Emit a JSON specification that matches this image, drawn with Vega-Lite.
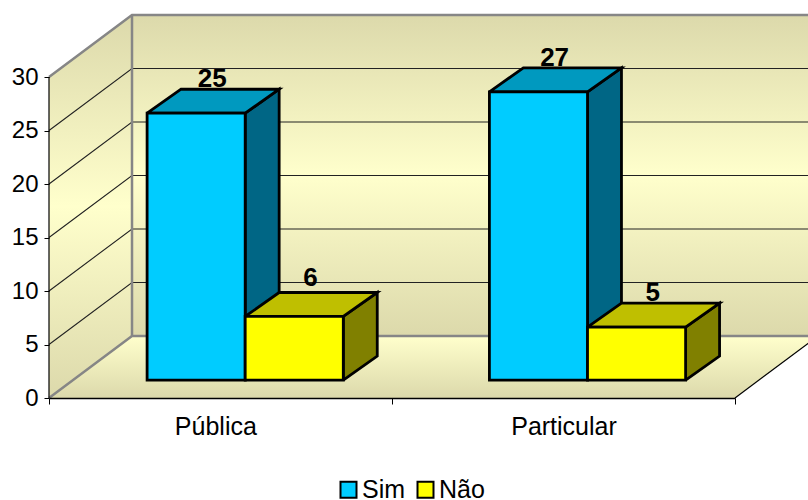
{
"$schema":"https://vega.github.io/schema/vega-lite/v6.json",
"width":686,"height":398,
"autosize":"none",
"padding":{"left":49,"top":0,"right":73,"bottom":102},
"background":"white",
"view":{"stroke":null},
"config":{"font":"Liberation Sans","axis":{"grid":false,"title":null}},
"data":{"values":[
{"categoria":"Pública","serie":"Sim","valor":25},
{"categoria":"Pública","serie":"Não","valor":6},
{"categoria":"Particular","serie":"Sim","valor":27},
{"categoria":"Particular","serie":"Não","valor":5}
]},
"transform":[
{"calculate":"(datum.categoria=='Pública'?0:1)+(datum.categoria=='Pública'?0.286:0.284)+(datum.serie=='Sim'?0:0.286)","as":"x0"},
{"calculate":"datum.x0+0.286","as":"x1"},
{"calculate":"1.68+datum.valor-0.06","as":"t"},
{"calculate":"1.68","as":"b"}
],
"encoding":{
"x":{"field":"px","type":"quantitative","title":null,"scale":{"domain":[0,2],"nice":false,"zero":false},
 "axis":{"values":[0,0.485,1,1.5,2],"labelExpr":"datum.value==0.485?'Pública':(datum.value==1.5?'Particular':'')","labelFontSize":25,"labelColor":"#000","labelPadding":10,"labelFlush":false,"labelBound":false,"tickSize":6,"tickColor":"#000","tickOpacity":{"condition":{"test":"datum.value==0.485||datum.value==1.5","value":0},"value":1},"domainColor":"#000","domainWidth":1.5,"zindex":1}},
"y":{"field":"py","type":"quantitative","title":null,"scale":{"domain":[0,37.2],"nice":false,"zero":false},
 "axis":{"values":[0,5,10,15,20,25,30],"domain":false,"labelFontSize":24,"labelColor":"#000","labelPadding":6,"tickSize":5,"tickColor":"#000","zindex":1}}
},
"layer":[
{"data":{"values":[{"parte":"fundo"}]},
 "transform":[{"calculate":"[0.242,2.242,2.242,0.242,0.242]","as":"px"},{"calculate":"[5.8,5.8,35.8,35.8,5.8]","as":"py"},{"calculate":"[0,1,2,3,4]","as":"ordem"},{"flatten":["px","py","ordem"]}],
 "mark":{"type":"line","strokeWidth":0,"fill":{"gradient":"linear","x1":0,"y1":0,"x2":0,"y2":1,"stops":[{"offset":0,"color":"#DCD9AB"},{"offset":0.5,"color":"#FFFFCC"},{"offset":1,"color":"#DCD9AB"}]}},
 "encoding":{"order":{"field":"ordem"}}},
{"data":{"values":[{"parte":"esquerda"}]},
 "transform":[{"calculate":"[0,0.242,0.242,0,0]","as":"px"},{"calculate":"[0,5.8,35.8,30,0]","as":"py"},{"calculate":"[0,1,2,3,4]","as":"ordem"},{"flatten":["px","py","ordem"]}],
 "mark":{"type":"line","strokeWidth":0,"fill":{"gradient":"linear","x1":0,"y1":0,"x2":0,"y2":1,"stops":[{"offset":0,"color":"#DCD9AB"},{"offset":0.5,"color":"#FFFFCC"},{"offset":1,"color":"#DCD9AB"}]}},
 "encoding":{"order":{"field":"ordem"}}},
{"data":{"values":[{"parte":"piso"}]},
 "transform":[{"calculate":"[0,2,2.242,0.242,0]","as":"px"},{"calculate":"[0,0,5.8,5.8,0]","as":"py"},{"calculate":"[0,1,2,3,4]","as":"ordem"},{"flatten":["px","py","ordem"]}],
 "mark":{"type":"line","strokeWidth":0,"fill":{"gradient":"linear","x1":0,"y1":0,"x2":0,"y2":1,"stops":[{"offset":0,"color":"#FFFFCC"},{"offset":1,"color":"#DCD9AB"}]}},
 "encoding":{"order":{"field":"ordem"}}},
{"data":{"values":[{"v":5},{"v":10},{"v":15},{"v":20},{"v":25}]},
 "transform":[{"calculate":"[0,0.242,2.242]","as":"px"},{"calculate":"[datum.v,datum.v+5.8,datum.v+5.8]","as":"py"},{"calculate":"[0,1,2]","as":"ordem"},{"flatten":["px","py","ordem"]}],
 "mark":{"type":"line","stroke":"#222","strokeWidth":1.1},
 "encoding":{"order":{"field":"ordem"},"detail":{"field":"v"}}},
{"data":{"values":[{"parte":"a"},{"parte":"b"},{"parte":"c"}]},
 "transform":[
 {"calculate":"datum.parte=='a'?[0,0.242,2.242]:(datum.parte=='b'?[0,0.242,2.242]:[0.242,0.242,0.242])","as":"px"},
 {"calculate":"datum.parte=='a'?[30,35.8,35.8]:(datum.parte=='b'?[0,5.8,5.8]:[5.8,20,35.8])","as":"py"},
 {"calculate":"[0,1,2]","as":"ordem"},{"flatten":["px","py","ordem"]}],
 "mark":{"type":"line","stroke":"#868686","strokeWidth":2.5},
 "encoding":{"order":{"field":"ordem"},"detail":{"field":"parte"}}},
{"data":{"values":[{"parte":"a"},{"parte":"b"}]},
 "transform":[
 {"calculate":"datum.parte=='a'?[0,0]:[2,2.242]","as":"px"},
 {"calculate":"datum.parte=='a'?[0,30]:[0,5.8]","as":"py"},
 {"calculate":"[0,1]","as":"ordem"},{"flatten":["px","py","ordem"]}],
 "mark":{"type":"line","stroke":"#000","strokeWidth":1.2},
 "encoding":{"order":{"field":"ordem"},"detail":{"field":"parte"}}},
{"transform":[{"calculate":"datum.x0+0.143+0.047","as":"tx"},{"calculate":"datum.t+2.24+(datum.valor==6?0.55:0.1)","as":"ty"}],
 "mark":{"type":"text","fontSize":26,"fontWeight":"bold","color":"#000","baseline":"bottom","align":"center","dy":4},
 "encoding":{"x":{"field":"tx","type":"quantitative","title":null},"y":{"field":"ty","type":"quantitative","title":null},"text":{"field":"valor"}}},
{"transform":[
 {"calculate":"[datum.x1,datum.x1,datum.x1+0.099,datum.x1+0.099,datum.x1]","as":"px"},
 {"calculate":"[1.68,datum.t,datum.t+2.24,3.92,1.68]","as":"py"},
 {"calculate":"[0,1,2,3,4]","as":"ordem"},{"flatten":["px","py","ordem"]}],
 "mark":{"type":"line","stroke":"#000","strokeWidth":2.8,"strokeJoin":"miter"},
 "encoding":{"order":{"field":"ordem"},"detail":[{"field":"categoria"},{"field":"serie"}],
 "fill":{"condition":{"test":"datum.serie=='Sim'","value":"#006685"},"value":"#808000"}}},
{"transform":[
 {"calculate":"[datum.x0,datum.x1,datum.x1+0.099,datum.x0+0.099,datum.x0]","as":"px"},
 {"calculate":"[datum.t,datum.t,datum.t+2.24,datum.t+2.24,datum.t]","as":"py"},
 {"calculate":"[0,1,2,3,4]","as":"ordem"},{"flatten":["px","py","ordem"]}],
 "mark":{"type":"line","stroke":"#000","strokeWidth":2.8,"strokeJoin":"miter"},
 "encoding":{"order":{"field":"ordem"},"detail":[{"field":"categoria"},{"field":"serie"}],
 "fill":{"condition":{"test":"datum.serie=='Sim'","value":"#0099BF"},"value":"#BFBF00"}}},
{"mark":{"type":"rect","stroke":"#000","strokeWidth":2.8},
 "encoding":{
 "x":{"field":"x0","type":"quantitative","title":null},"x2":{"field":"x1"},
 "y":{"field":"t","type":"quantitative","title":null},"y2":{"field":"b"},
 "fill":{"field":"serie","type":"nominal","scale":{"domain":["Sim","Não"],"range":["#00CCFF","#FFFF00"]},
 "legend":{"title":null,"orient":"none","legendX":287,"legendY":477,"direction":"horizontal","columns":2,"symbolType":"square","symbolSize":256,"symbolStrokeColor":"#000","symbolStrokeWidth":2,"symbolOpacity":1,"labelFontSize":25,"labelColor":"#000","labelOffset":1,"columnPadding":7,"padding":0}}}}
]
}
